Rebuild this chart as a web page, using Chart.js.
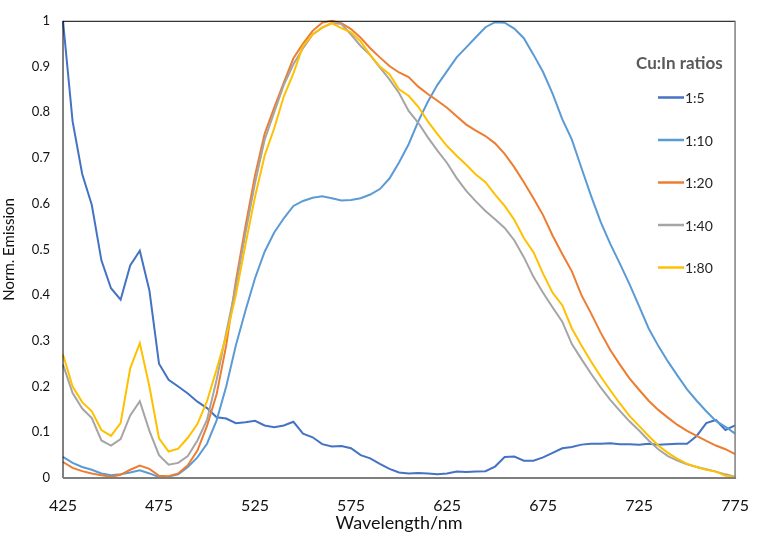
<!DOCTYPE html>
<html>
<head>
<meta charset="utf-8">
<script src="https://cdn.jsdelivr.net/npm/chart.js@4"></script>
<style>
  html, body { margin: 0; padding: 0; background: #fff; }
  #wrap { width: 767px; height: 545px; }
</style>
</head>
<body>
<div id="wrap"><canvas id="emissionChart" width="767" height="545"></canvas></div>
<script>
// wavelength grid (nm), 5 nm steps
const wavelength = [];
for (let w = 425; w <= 775; w += 5) wavelength.push(w);

const seriesLabels = ['1:5', '1:10', '1:20', '1:40', '1:80'];
const seriesColors = ['#4472C4', '#5B9BD5', '#ED7D31', '#A5A5A5', '#FFC000'];
const legendTitle = 'Cu:In ratios';

const xTicks = [425, 475, 525, 575, 625, 675, 725, 775];
const yTicks = [0, 0.1, 0.2, 0.3, 0.4, 0.5, 0.6, 0.7, 0.8, 0.9, 1];

// normalised emission
const ratio1to5 = [
    1.0, 0.78, 0.665, 0.597, 0.476, 0.415, 0.39, 0.465, 0.497, 0.41,
    0.25, 0.215, 0.2, 0.185, 0.167, 0.153, 0.133, 0.13, 0.12, 0.122,
    0.125, 0.115, 0.111, 0.115, 0.123, 0.097, 0.089, 0.074, 0.069, 0.07,
    0.065, 0.05, 0.043, 0.031, 0.02, 0.012, 0.01, 0.011, 0.01, 0.008,
    0.01, 0.014, 0.013, 0.014, 0.015, 0.025, 0.046, 0.047, 0.038, 0.038,
    0.045, 0.055, 0.065, 0.068, 0.073, 0.075, 0.075, 0.076, 0.074, 0.074,
    0.073, 0.075, 0.073, 0.074, 0.075, 0.075, 0.092, 0.12, 0.127, 0.105,
    0.115
];
const ratio1to10 = [
    0.046, 0.033, 0.024, 0.018, 0.01, 0.006, 0.008, 0.012, 0.017, 0.01,
    0.002, 0.003, 0.008, 0.024, 0.045, 0.075, 0.126, 0.2, 0.29, 0.366,
    0.437, 0.495, 0.537, 0.568, 0.595, 0.606, 0.613, 0.616, 0.612, 0.607,
    0.608, 0.612, 0.62, 0.632, 0.655, 0.69, 0.73, 0.78, 0.823, 0.86,
    0.89, 0.92, 0.942, 0.964, 0.986, 0.997, 0.996, 0.983, 0.962, 0.926,
    0.888, 0.84, 0.785, 0.74, 0.678, 0.617, 0.56, 0.512, 0.469, 0.424,
    0.376, 0.327, 0.289, 0.255, 0.224, 0.194, 0.169, 0.146, 0.125, 0.112,
    0.097
];
const ratio1to20 = [
    0.035, 0.022, 0.015, 0.01, 0.006, 0.003, 0.007, 0.018, 0.027, 0.02,
    0.005, 0.004, 0.01, 0.028, 0.06, 0.114, 0.183, 0.29, 0.43, 0.55,
    0.662, 0.753, 0.81, 0.865, 0.918, 0.95, 0.978, 0.996, 1.0, 0.995,
    0.982, 0.963, 0.94, 0.92, 0.901, 0.887, 0.877, 0.856, 0.84, 0.825,
    0.81, 0.791, 0.773, 0.76, 0.748, 0.732, 0.709, 0.68, 0.647, 0.612,
    0.575, 0.53, 0.49, 0.452, 0.4, 0.36, 0.318, 0.28, 0.248, 0.218,
    0.193, 0.169, 0.149, 0.132, 0.116, 0.103, 0.092, 0.081, 0.071, 0.063,
    0.052
];
const ratio1to40 = [
    0.248, 0.186, 0.152, 0.131, 0.082, 0.071, 0.085, 0.137, 0.168, 0.103,
    0.05, 0.029, 0.033, 0.048, 0.082, 0.127, 0.215, 0.318, 0.418, 0.535,
    0.645, 0.74, 0.8, 0.86, 0.905, 0.94, 0.97, 0.985, 0.995, 0.993,
    0.97, 0.945, 0.925, 0.898, 0.872, 0.842, 0.803, 0.777, 0.745, 0.716,
    0.689, 0.656, 0.628, 0.605, 0.584, 0.566, 0.547, 0.52, 0.483, 0.44,
    0.405, 0.373, 0.342, 0.293, 0.26, 0.228, 0.198, 0.171, 0.147, 0.124,
    0.104, 0.082, 0.063, 0.048, 0.038, 0.03, 0.024, 0.019, 0.014, 0.008,
    0.003
];
const ratio1to80 = [
    0.27, 0.2, 0.166, 0.146, 0.105, 0.092, 0.12, 0.24, 0.295, 0.2,
    0.087, 0.058, 0.064, 0.088, 0.118, 0.168, 0.238, 0.31, 0.4, 0.51,
    0.615, 0.705, 0.765, 0.835, 0.885, 0.945, 0.97, 0.985, 0.995, 0.984,
    0.975, 0.955, 0.925, 0.9, 0.883, 0.85, 0.836, 0.812, 0.78, 0.752,
    0.726, 0.705, 0.685, 0.664, 0.647, 0.62, 0.595, 0.565, 0.525, 0.494,
    0.447, 0.405, 0.378, 0.327, 0.29, 0.255, 0.222, 0.192, 0.163, 0.136,
    0.114, 0.092, 0.071, 0.055, 0.042, 0.031, 0.024, 0.018, 0.014, 0.005,
    0.003
];

const allSeries = [ratio1to5, ratio1to10, ratio1to20, ratio1to40, ratio1to80];

// legend drawn inside the plot, right side (like the Excel original)
const sideLegend = {
    id: 'sideLegend',
    afterDraw(chart) {
        const ctx = chart.ctx;
        ctx.save();
        ctx.textBaseline = 'middle';
        ctx.textAlign = 'left';
        ctx.font = 'bold 17px Lato';
        ctx.fillStyle = '#595959';
        ctx.fillText(legendTitle, 636, 64);
        ctx.font = '14px Lato';
        chart.data.datasets.forEach((ds, i) => {
            const y = 97.5 + i * 42.5;
            ctx.strokeStyle = ds.borderColor;
            ctx.lineWidth = 2.5;
            ctx.beginPath();
            ctx.moveTo(658, y);
            ctx.lineTo(684, y);
            ctx.stroke();
            ctx.fillStyle = '#262626';
            ctx.fillText(ds.label, 685, y + 1);
        });
        ctx.restore();
    }
};

// plot frame: black top/left, grey right/bottom
const plotFrame = {
    id: 'plotFrame',
    afterDatasetsDraw(chart) {
        const { left, right, top, bottom } = chart.chartArea;
        const ctx = chart.ctx;
        ctx.save();
        ctx.lineWidth = 1;
        ctx.strokeStyle = '#000';
        ctx.beginPath();
        ctx.moveTo(left, bottom);
        ctx.lineTo(left, top + 0.5);
        ctx.lineTo(right, top + 0.5);
        ctx.stroke();
        ctx.strokeStyle = '#7f7f7f';
        ctx.lineWidth = 1.5;
        ctx.beginPath();
        ctx.moveTo(right, top);
        ctx.lineTo(right, bottom);
        ctx.stroke();
        ctx.lineWidth = 2;
        ctx.beginPath();
        ctx.moveTo(left, bottom);
        ctx.lineTo(right + 1, bottom);
        ctx.stroke();
        ctx.restore();
    }
};

const ctx = document.getElementById('emissionChart').getContext('2d');
new Chart(ctx, {
    type: 'line',
    data: {
        datasets: allSeries.map((s, i) => ({
            label: seriesLabels[i],
            data: wavelength.map((w, j) => ({ x: w, y: s[j] })),
            borderColor: seriesColors[i],
            backgroundColor: seriesColors[i],
            borderWidth: 2,
            pointRadius: 0,
            tension: 0,
            fill: false,
            clip: 3,
            order: allSeries.length - i,
        }))
    },
    options: {
        responsive: false,
        animation: false,
        layout: { padding: { left: 0, top: 16, right: 17, bottom: 0 } },
        plugins: {
            legend: { display: false },
            tooltip: { enabled: false }
        },
        scales: {
            x: {
                type: 'linear',
                min: 425,
                max: 775,
                afterBuildTicks: (scale) => { scale.ticks = xTicks.map(v => ({ value: v })); },
                afterFit: (scale) => { scale.height = 67; },
                grid: { display: false, drawTicks: false },
                border: { display: false },
                ticks: { color: '#111', font: { size: 16, family: 'Lato' }, padding: 18, maxRotation: 0,
                         callback: (v) => String(v) },
                title: {
                    display: true,
                    text: 'Wavelength/nm',
                    color: '#111',
                    font: { size: 18, family: 'Lato' },
                    padding: { top: 0, bottom: 11 }
                }
            },
            y: {
                min: 0,
                max: 1,
                afterBuildTicks: (scale) => { scale.ticks = yTicks.map(v => ({ value: v })); },
                afterFit: (scale) => { scale.width = 63; },
                grid: { display: false, drawTicks: false },
                border: { display: false },
                ticks: { color: '#111', font: { size: 13, family: 'Lato' }, padding: 13,
                         callback: (v) => String(v) },
                title: {
                    display: true,
                    text: 'Norm. Emission',
                    color: '#111',
                    font: { size: 15, family: 'Lato' },
                    padding: { top: 0, bottom: 0 }
                }
            }
        }
    },
    plugins: [plotFrame, sideLegend]
});
</script>
</body>
</html>
